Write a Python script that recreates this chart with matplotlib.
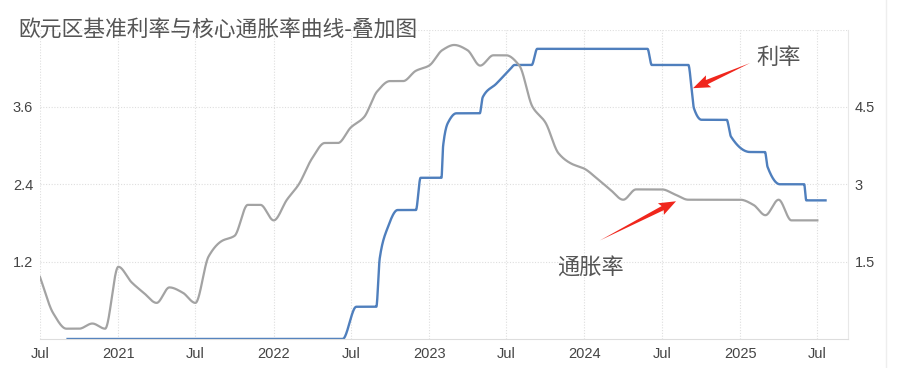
import numpy as np
import pandas as pd
import matplotlib
matplotlib.use('Agg')
import matplotlib.pyplot as plt
import matplotlib.dates as mdates
from matplotlib.lines import Line2D
from matplotlib.patches import Polygon
from matplotlib.transforms import IdentityTransform

plt.rcParams['font.family'] = ['Noto Sans CJK SC', 'DejaVu Sans']

# ── Data ──
# core inflation, monthly from Jul 2020 (right axis)
infl_start = "2020-07-01"
infl_values = [1.2, 0.5, 0.2, 0.2, 0.3, 0.2,
               1.4, 1.1, 0.9, 0.7, 1.0, 0.9, 0.7, 1.6, 1.9, 2.0, 2.6, 2.6,
               2.3, 2.7, 3.0, 3.5, 3.8, 3.8, 4.1, 4.3, 4.8, 5.0, 5.0, 5.2,
               5.3, 5.6, 5.7, 5.6, 5.3, 5.5, 5.5, 5.3, 4.5, 4.2, 3.6, 3.4,
               3.3, 3.1, 2.9, 2.7, 2.9, 2.9, 2.9, 2.8, 2.7, 2.7, 2.7, 2.7,
               2.7, 2.6, 2.4, 2.7, 2.3, 2.3, 2.3]

# ECB rate path (left axis)
rate_dates = ["2020-09-01", "2022-06-12", "2022-07-14", "2022-08-30",
              "2022-09-07", "2022-09-23", "2022-10-19", "2022-12-01",
              "2022-12-12", "2023-01-30", "2023-02-03", "2023-02-14",
              "2023-03-06", "2023-04-30", "2023-05-07", "2023-06-08",
              "2023-07-10", "2023-07-21", "2023-08-30", "2023-09-12",
              "2024-05-28", "2024-06-07", "2024-09-01", "2024-09-09",
              "2024-09-14", "2024-10-02", "2024-11-30", "2024-12-10",
              "2025-01-24", "2025-02-28", "2025-03-06", "2025-04-04",
              "2025-05-31", "2025-06-05", "2025-07-23"]
rate_values = [0, 0, 0.5, 0.5,
               1.25, 1.68, 2.0, 2.0,
               2.5, 2.5, 3.0, 3.35,
               3.5, 3.5, 3.75, 3.96,
               4.18, 4.25, 4.25, 4.5,
               4.5, 4.25, 4.25, 3.86,
               3.58, 3.4, 3.4, 3.14,
               2.9, 2.9, 2.67, 2.4,
               2.4, 2.15, 2.15]

tick_dates = ["2020-07-01", "2021-01-01", "2021-07-01", "2022-01-01",
              "2022-07-01", "2023-01-01", "2023-07-01", "2024-01-01",
              "2024-07-01", "2025-01-01", "2025-07-01"]
tick_labels = ["Jul", "2021", "Jul", "2022", "Jul", "2023",
               "Jul", "2024", "Jul", "2025", "Jul"]
left_ticks = [1.2, 2.4, 3.6]
right_ticks = [1.5, 3, 4.5]
right_labels = ["1.5", "3", "4.5"]

TITLE = "欧元区基准利率与核心通胀率曲线-叠加图"
BLUE = "#4f7fbd"
GRAY = "#a3a3a3"
RED = "#f0261c"
TXT = "#555555"


def to_num(dates):
    return mdates.date2num(pd.to_datetime(dates).values)


def smooth(x, y, per_seg=40):
    # monotone cubic (pchip) curve through the points, for drawing only
    x = np.asarray(x, float)
    y = np.asarray(y, float)
    h = np.diff(x)
    d = np.diff(y) / h
    m = np.zeros_like(y)
    for k in range(1, len(y) - 1):
        if d[k - 1] * d[k] > 0:
            w1 = 2 * h[k] + h[k - 1]
            w2 = h[k] + 2 * h[k - 1]
            m[k] = (w1 + w2) / (w1 / d[k - 1] + w2 / d[k])
    m[0] = d[0]
    m[-1] = d[-1]
    xs, ys = [], []
    for i in range(len(h)):
        t = np.linspace(0, 1, per_seg, endpoint=(i == len(h) - 1))
        h00 = 2 * t**3 - 3 * t**2 + 1
        h10 = t**3 - 2 * t**2 + t
        h01 = -2 * t**3 + 3 * t**2
        h11 = t**3 - t**2
        xs.append(x[i] + t * h[i])
        ys.append(h00 * y[i] + h10 * h[i] * m[i] + h01 * y[i + 1] + h11 * h[i] * m[i + 1])
    return np.concatenate(xs), np.concatenate(ys)


def red_arrow(fig, trans, tail, head, head_len=15, head_half=6.5, neck_half=2.3):
    # tapered red arrow, built in pixel space
    t = np.array(trans.transform(tail), float)
    p = np.array(trans.transform(head), float)
    u = (p - t) / np.hypot(*(p - t))
    n = np.array([-u[1], u[0]])
    base = p - u * head_len
    pts = [t,
           base + n * neck_half,
           base - u * 2 + n * head_half,
           p,
           base - u * 2 - n * head_half,
           base - n * neck_half]
    fig.add_artist(Polygon(pts, closed=True, facecolor=RED, edgecolor="none",
                           transform=IdentityTransform(), zorder=10))


infl_dates = pd.date_range(infl_start, periods=len(infl_values), freq="MS")

fig = plt.figure(figsize=(9.02, 3.68), dpi=100)
ax = fig.add_axes([40 / 902, 29 / 368, 808 / 902, 309.5 / 368])
ax2 = ax.twinx()

bx, by = smooth(to_num(rate_dates), rate_values)
ax.plot(bx, by, color=BLUE, lw=1.7, solid_capstyle="butt")
gx, gy = smooth(to_num(infl_dates), infl_values)
ax2.plot(gx, gy, color=GRAY, lw=1.6)

ax.set_xlim(to_num(["2020-07-01"])[0], to_num(["2025-09-11"])[0])
ax.set_ylim(0, 4.8)
ax2.set_ylim(0, 6.0)

ax.set_xticks(to_num(tick_dates))
ax.set_xticklabels(tick_labels)
ax.set_yticks(left_ticks)
ax.set_yticklabels([f"{v:.1f}" for v in left_ticks])
ax2.set_yticks(right_ticks)
ax2.set_yticklabels(right_labels)

for a in (ax, ax2):
    a.tick_params(length=0, labelsize=10.5, labelcolor="#444444",
                  labelfontfamily="Liberation Sans")
    for s in a.spines.values():
        s.set_visible(False)
ax.tick_params(axis="x", pad=6)
ax.tick_params(axis="y", pad=5)
ax2.tick_params(axis="y", pad=5)

ax.grid(True, color="#dedede", lw=0.8, linestyle=(0, (1, 1.5)))
ax.axhline(4.8, color="#dedede", lw=0.8, linestyle=(0, (1, 1.5)))
ax.spines["bottom"].set_visible(True)
ax.spines["bottom"].set_color("#dddddd")
ax.spines["right"].set_visible(True)
ax.spines["right"].set_color("#e8e8e8")

# annotations
red_arrow(fig, ax.transData,
          (to_num(["2025-01-24"])[0], 4.28), (to_num(["2024-09-12"])[0], 3.89))
ax2.text(to_num(["2025-03-31"])[0], 4.36, "利率", transform=ax.transData,
         ha="center", va="center", fontsize=16, color=TXT)

red_arrow(fig, ax2.transData,
          (to_num(["2024-02-06"])[0], 1.91), (to_num(["2024-08-03"])[0], 2.67))
ax2.text(to_num(["2024-01-16"])[0], 1.37, "通胀率",
         ha="center", va="center", fontsize=16, color=TXT)

fig.text(18 / 902, 1 - 30 / 368, TITLE, ha="left", va="center",
         fontsize=15.7, color=TXT)
fig.add_artist(Line2D([886 / 902, 886 / 902], [0, 1], color="#eeeeee", lw=1))

fig.savefig("out.png", dpi=100)
